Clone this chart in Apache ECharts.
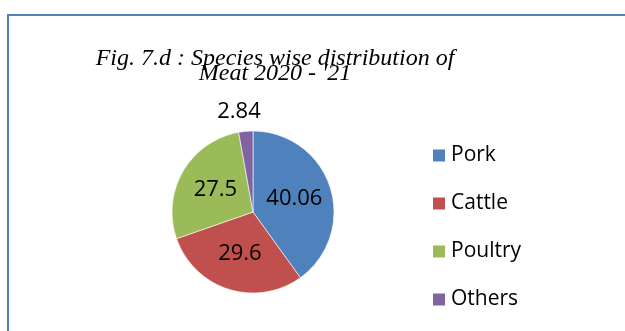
<!DOCTYPE html>
<html>
<head>
<meta charset="utf-8">
<script src="https://cdn.jsdelivr.net/npm/echarts@6/dist/echarts.min.js"></script>
<style>
  html, body { margin: 0; padding: 0; background: #fff; }
  #chart { width: 625px; height: 331px; }
</style>
</head>
<body>
<div id="chart"></div>
<script>
// Species-wise share of meat production, 2020-21 (%)
const species = ['Pork', 'Cattle', 'Poultry', 'Others'];
const shares = [40.06, 29.6, 27.5, 2.84];
const sliceColors = ['#4f81bd', '#c0504d', '#9bbb59', '#8064a2'];
const titleLines = ['Fig. 7.d : Species wise distribution of', "Meat 2020 - '21"];

const labelFont = '"Open Sans", "Noto Sans", sans-serif';

const pieData = species.map((name, i) => {
  const item = { name: name, value: shares[i], itemStyle: { color: sliceColors[i] } };
  // the thin slice gets its value printed above the pie instead of inside
  if (shares[i] < 5) {
    item.label = { position: 'outside' };
    item.labelLine = { show: false, length: 20, length2: 0 };
  }
  return item;
});

const chart = echarts.init(document.getElementById('chart'), null, { renderer: 'canvas' });
chart.setOption({
  animation: false,
  backgroundColor: '#fff',
  graphic: [{
    type: 'rect',
    shape: { x: 8, y: 15, width: 640, height: 340 },
    style: { fill: 'none', stroke: '#4f81bd', lineWidth: 2 },
    silent: true
  }],
  title: {
    text: titleLines.join('\n'),
    left: 275,
    top: 51,
    padding: 0,
    textAlign: 'center',
    textStyle: {
      fontFamily: '"Liberation Serif", serif',
      fontStyle: 'italic',
      fontWeight: 'normal',
      fontSize: 24,
      lineHeight: 15,
      color: '#000'
    }
  },
  legend: {
    orient: 'vertical',
    left: 431,
    top: 145,
    padding: 0,
    itemWidth: 14,
    itemHeight: 14,
    itemGap: 27,
    icon: 'rect',
    data: species,
    textStyle: {
      fontFamily: labelFont,
      fontSize: 21,
      lineHeight: 21,
      color: '#000'
    }
  },
  series: [{
    type: 'pie',
    center: [253, 212],
    radius: 81,
    startAngle: 90,
    clockwise: true,
    avoidLabelOverlap: false,
    itemStyle: { borderColor: '#ffffff', borderWidth: 0.6 },
    label: {
      show: true,
      position: 'inside',
      formatter: p => String(p.value),
      fontFamily: labelFont,
      fontSize: 22,
      color: '#000'
    },
    labelLayout: p => (p.dataIndex === 3 ? { align: 'center' } : {}),
    emphasis: { disabled: true },
    data: pieData
  }]
});
</script>
</body>
</html>
